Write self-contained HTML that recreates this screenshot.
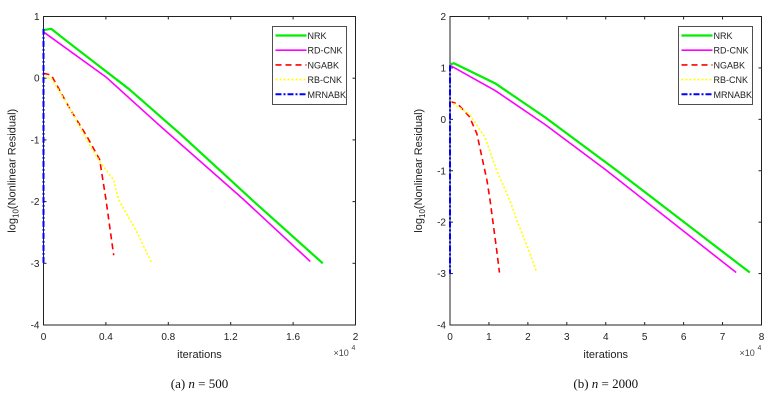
<!DOCTYPE html>
<html><head><meta charset="utf-8"><style>
body{margin:0;background:#fff;}
svg{display:block;font-family:"Liberation Sans",Arial,sans-serif;}
</style></head><body>
<svg id="fig" width="777" height="406" viewBox="0 0 777 406"></svg>
<script>
// Panel (a) n=500 data (x in units of 1e4)
const aNrkX=[0,0.05,0.15,0.55,0.875,1.34,1.79];
const aNrkY=[0.78,0.8,0.6,-0.18,-0.9,-1.98,-3.0];
const aRdX=[0,0.4,0.75,1.28,1.71];
const aRdY=[0.75,0.02,-0.78,-1.96,-2.97];
const aNgX=[0,0.05,0.17,0.28,0.36,0.4,0.45];
const aNgY=[0.08,0.05,-0.5,-0.95,-1.32,-1.96,-2.87];
const aRbX=[0,0.05,0.17,0.3,0.36,0.45,0.48,0.6,0.69];
const aRbY=[0.02,0.0,-0.5,-1.1,-1.35,-1.65,-1.96,-2.5,-2.98];
const aMrX=[0,0];
const aMrY=[0.8,-3];
const aXTicks=[0,0.4,0.8,1.2,1.6,2];
const aYTicks=[1,0,-1,-2,-3,-4];
// Panel (b) n=2000 data
const bNrkX=[0,0.1,1.16,2.44,4.24,7.7];
const bNrkY=[1.07,1.09,0.7,0.04,-0.97,-2.98];
const bRdX=[0,1.16,2.44,3.98,7.35];
const bRdY=[1.05,0.56,-0.1,-0.97,-2.98];
const bNgX=[0,0.2,0.5,0.69,0.95,1.03,1.2,1.27];
const bNgY=[0.35,0.3,0.05,-0.28,-1.19,-1.58,-2.55,-2.98];
const bRbX=[0,0.5,0.9,1.2,1.54,1.72,2.0,2.23];
const bRbY=[0.35,0.1,-0.35,-1.0,-1.58,-1.97,-2.5,-2.98];
const bMrX=[0,0];
const bMrY=[1.05,-3];
const bXTicks=[0,1,2,3,4,5,6,7,8];
const bYTicks=[2,1,0,-1,-2,-3,-4];
const legendNames=["NRK","RD-CNK","NGABK","RB-CNK","MRNABK"];
const styles=[
 {c:"#00ee00",w:2.2,d:""},
 {c:"#ff00ff",w:1.6,d:""},
 {c:"#ff0000",w:1.6,d:"6,4"},
 {c:"#ffff00",w:1.6,d:"2,2"},
 {c:"#0000ff",w:2,d:"6,2,2,2"}];
const NS="http://www.w3.org/2000/svg";
const svg=document.getElementById("fig");
function mk(tag,attrs,parent,text){const e=document.createElementNS(NS,tag);for(const k in attrs)e.setAttribute(k,attrs[k]);if(text!==undefined)e.textContent=text;(parent||svg).appendChild(e);return e;}
function panel(id,L,R,T,B,xmin,xmax,ymin,ymax,xt,yt,series,caption){
 const g=mk("g",{});
 
 
 const sx=v=>L+(v-xmin)/(xmax-xmin)*(R-L);
 const sy=v=>B-(v-ymin)/(ymax-ymin)*(B-T);
 const box=mk("rect",{x:L,y:T,width:R-L,height:B-T,fill:"#fff",stroke:"#222","stroke-width":1},g);
 
 
 xt.forEach(v=>{const x=sx(v);
  mk("line",{x1:x,y1:B,x2:x,y2:B-3,stroke:"#222"},g);mk("line",{x1:x,y1:T,x2:x,y2:T+3,stroke:"#222"},g);
  const t=mk("text",{x:x,y:B+15,"font-size":10,"text-anchor":"middle",fill:"#222"},g,String(v));
  
  });
 yt.forEach(v=>{const y=sy(v);
  mk("line",{x1:L,y1:y,x2:L+3,y2:y,stroke:"#222"},g);mk("line",{x1:R,y1:y,x2:R-3,y2:y,stroke:"#222"},g);
  const t=mk("text",{x:L-4,y:y+3.5,"font-size":10,"text-anchor":"end",fill:"#222"},g,String(v));
  
  });
 series.forEach((s,i)=>{const st=styles[i];
  const p=mk("polyline",{points:s[0].map((x,j)=>sx(x)+","+sy(s[1][j])).join(" "),fill:"none",stroke:st.c,"stroke-width":st.w,"stroke-dasharray":st.d,"stroke-linejoin":"round"},g);
  
  });
 const xl=mk("text",{x:(L+R)/2,y:B+33,"font-size":11,"text-anchor":"middle",fill:"#222"},g,"iterations");
 
 
 const ex=mk("text",{x:R-22,y:B+31,"font-size":9,fill:"#444"},g,"×10");
 
 
 mk("text",{x:R-4,y:B+25,"font-size":7,fill:"#444"},g,"4");
 const yl=mk("text",{transform:"translate("+(L-28)+","+((T+B)/2)+") rotate(-90)","font-size":11,"text-anchor":"middle",fill:"#222"},g);
 
 
 mk("tspan",{},yl,"log");mk("tspan",{dy:3,"font-size":8},yl,"10");mk("tspan",{dy:-3},yl,"(Nonlinear Residual)");
 const lg=mk("g",{},g);
 
 
 const lx=R-83,ly=T+10;
 mk("rect",{x:lx,y:ly,width:74,height:78,fill:"#fff",stroke:"#222","stroke-width":0.8},lg);
 legendNames.forEach((n,i)=>{const st=styles[i];const y=ly+9+i*14.7;
  mk("line",{x1:lx+3,y1:y,x2:lx+34,y2:y,stroke:st.c,"stroke-width":st.w,"stroke-dasharray":st.d},lg);
  const t=mk("text",{x:lx+35,y:y+3.5,"font-size":9,fill:"#222"},lg,n);
  
  });
 const cp=mk("text",{x:(L+R)/2,y:388,"font-size":13,"text-anchor":"middle","font-family":"Liberation Serif,serif",fill:"#111"},g);
 
 
 mk("tspan",{},cp,caption[0]);mk("tspan",{"font-style":"italic"},cp,"n");mk("tspan",{},cp," = "+caption[1]);
}
panel("panel-a",43.5,355.5,16.5,325,0,2,-4,1,aXTicks,aYTicks,
 [[aNrkX,aNrkY],[aRdX,aRdY],[aNgX,aNgY],[aRbX,aRbY],[aMrX,aMrY]],["(a)  ","500"]);
panel("panel-b",450,761.5,16.5,325,0,8,-4,2,bXTicks,bYTicks,
 [[bNrkX,bNrkY],[bRdX,bRdY],[bNgX,bNgY],[bRbX,bRbY],[bMrX,bMrY]],["(b)  ","2000"]);
</script>
</body></html>
